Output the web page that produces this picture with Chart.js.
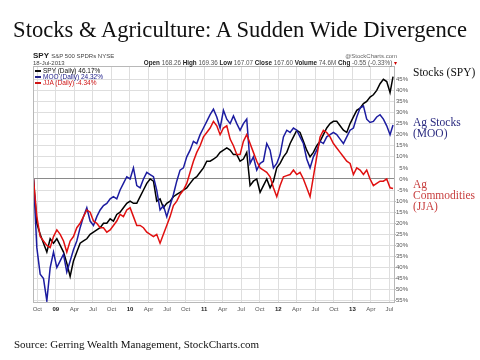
<!DOCTYPE html>
<html><head><meta charset="utf-8">
<script src="https://cdn.jsdelivr.net/npm/chart.js@4/dist/chart.umd.min.js"></script>
<style>
html,body{margin:0;padding:0;background:#fff;}
#wrap{position:relative;width:480px;height:360px;overflow:hidden;background:#fff;}
canvas{position:absolute;left:0;top:0;}
.t{position:absolute;white-space:nowrap;line-height:1;}
.serif{font-family:"Liberation Serif","Times New Roman",serif;}
.sans{font-family:"Liberation Sans",Arial,sans-serif;}
.lg{font-size:6.5px;}
.lg b{display:inline-block;width:6px;height:1.6px;vertical-align:middle;margin-right:2px;}
</style></head><body>
<div id="wrap">
<canvas id="c" width="480" height="360" style="width:480px;height:360px"></canvas>
<div class="t serif" style="left:0;width:480px;text-align:center;top:19px;font-size:22.6px;color:#111;">Stocks &amp; Agriculture: A Sudden Wide Divergence</div>
<div class="t sans" style="left:33px;top:52px;font-size:8px;color:#222;"><span style="font-weight:bold;">SPY</span> <span style="font-size:6px;color:#444;">S&amp;P 500 SPDRs NYSE</span></div>
<div class="t sans" style="left:33px;top:60px;font-size:6px;color:#444;">18-Jul-2013</div>
<div class="t sans" style="right:83px;top:53px;font-size:6px;color:#666;">@StockCharts.com</div>
<div class="t sans" style="right:83px;top:60px;font-size:6.3px;color:#555;"><b style="color:#222">Open</b> 168.26 <b style="color:#222">High</b> 169.36 <b style="color:#222">Low</b> 167.07 <b style="color:#222">Close</b> 167.60 <b style="color:#222">Volume</b> 74.6M <b style="color:#222">Chg</b> -0.55 (-0.33%) <span style="color:#c00">&#9662;</span></div>
<div class="t sans lg" style="left:35px;top:68px;color:#111;"><b style="background:#111"></b>SPY (Daily) 46.17%</div>
<div class="t sans lg" style="left:35px;top:74px;color:#22228c;"><b style="background:#22228c"></b>MOO (Daily) 24.32%</div>
<div class="t sans lg" style="left:35px;top:80px;color:#d01515;"><b style="background:#d01515"></b>JJA (Daily) -4.34%</div>
<div class="t serif" style="left:413px;top:67px;font-size:11.5px;color:#111;">Stocks (SPY)</div>
<div class="t serif" style="left:413px;top:117px;font-size:11.5px;line-height:11px;color:#2b2b80;">Ag Stocks<br>(MOO)</div>
<div class="t serif" style="left:413px;top:179px;font-size:11.5px;line-height:11px;color:#c84040;">Ag<br>Commodities<br>(JJA)</div>
<div class="t serif" style="left:14px;top:339px;font-size:11px;color:#111;">Source: Gerring Wealth Management, StockCharts.com</div>
</div>
<script>
// x positions: months since Jan 2008 (12 = Jan 2009)
const months = [8.38,8.92,9.46,10.00,10.54,11.08,11.62,12.16,12.70,13.24,13.77,14.31,14.85,15.39,15.93,16.47,17.01,17.55,18.09,18.63,19.17,19.71,20.25,20.79,21.32,21.86,22.40,22.94,23.48,24.02,24.56,25.10,25.64,26.18,26.72,27.26,27.80,28.33,28.87,29.41,29.95,30.49,31.03,31.57,32.11,32.65,33.19,33.73,34.27,34.81,35.35,35.89,36.43,
36.97,37.51,38.05,38.59,39.13,39.67,40.21,40.75,41.29,41.82,42.36,42.90,43.44,43.98,44.52,45.06,45.60,46.14,46.68,47.22,47.76,48.30,48.84,49.38,49.92,50.46,51.00,51.53,52.07,52.61,53.15,53.69,54.23,54.77,55.31,55.85,56.39,56.93,57.47,58.01,58.55,59.09,59.63,60.17,60.71,61.25,61.79,62.32,62.86,63.40,63.94,64.48,65.02,65.56,66.10,66.58];

const spy = [0,-20,-25,-29,-33,-27,-29,-27,-30,-33,-38,-44,-37,-33,-29,-28,-27,-25,-24,-23,-22,-20,-20,-18,-19,-16,-15,-13,-11,-10,-11,-11,-8,-5,-2,0,-1,-10,-9,-13,-11,-10,-8,-7,-6,-5,-4,-2,0,1,3,5,8,
8,9,10,12,13,14,13,11,11,8,9,12,-3,-1,0,-6,-3,0,-4,-1,5,7,10,12,16,19,22,21,17,13,10,12,15,17,20,23,25,26,26,24,22,21,25,28,31,32,34,35,37,38,40,43,45,44,39,46.17];

const moo = [0,-31,-43,-45,-55,-40,-33,-40,-37,-34,-42,-37,-32,-28,-22,-17,-13,-19,-21,-17,-14,-12,-11,-9,-8,-9,-5,-2,1,0,5,-3,-4,0,3,2,1,-5,-14,-12,-17,-12,-7,-1,4,5,10,13,17,16,20,23,26,
29,31.5,28,23,31,27,25,28.5,25,22,25,27,7,10,4,7,8,16,13,5,7,11,19,22,21,23,22,19,16,9,5,10,13,17,16,19,20,21,20,18,16,19,22,23,28,32,33,27,25.5,26,28,29,27,24,20,24.32];

const jja = [0,-17,-26,-28,-30,-31,-26,-23,-25,-28,-33,-28,-26,-22,-20,-17,-14,-15,-19,-20,-22,-22,-24,-23,-21,-19,-16,-17,-14,-13,-17,-21,-21,-22,-24,-25,-26,-25,-29,-25,-21,-17,-12,-10,-7,-5,-2,3,8,12,15,19,21,
23,26,24,20,23,24,18,15,11,11,17,20,16,12,8,5,4,3,1,-4,-8,-3,1,1.5,2,4,2,3,0,-4,-8,1,10,19,22,21,19,16,14,12,10,8,7,2,5,4,2,4,0,-3,-2,-1,-1,0,-4,-4.34];

const xTickMonths = [9,12,15,18,21,24,27,30,33,36,39,42,45,48,51,54,57,60,63,66];
const quarterNames = {3:'Apr',6:'Jul',9:'Oct'};
const yTicks = [-55,-50,-45,-40,-35,-30,-25,-20,-15,-10,-5,0,5,10,15,20,25,30,35,40,45];

function pts(vals){ return vals.map((v,i)=>({x:months[i], y:v})); }

const frame = {
  id:'frame',
  afterDraw(chart){
    const a = chart.chartArea, c = chart.ctx;
    c.save(); c.strokeStyle='#b8b8b8'; c.lineWidth=1;
    c.strokeRect(Math.round(a.left)+0.5, Math.round(a.top)+0.5, Math.round(a.right-a.left)-1, Math.round(a.bottom-a.top)-1);
    c.restore();
  }
};

const ds = (label, vals, color) => ({label, data: pts(vals), borderColor: color, backgroundColor: color, borderWidth: 1.5, pointRadius: 0, tension: 0, fill: false});

new Chart(document.getElementById('c'), {
  type: 'line',
  data: { datasets: [ ds('JJA', jja, '#e01010'), ds('MOO', moo, '#1c1ca0'), ds('SPY', spy, '#000000') ] },
  options: {
    responsive: false, animation: false,
    layout: { padding: { left: 33, top: 66, right: 72, bottom: 44 } },
    plugins: { legend: { display: false }, tooltip: { enabled: false } },
    scales: {
      x: {
        type: 'linear', position: 'bottom', min: 8.3, max: 66.9,
        afterBuildTicks: s => { s.ticks = xTickMonths.map(v => ({value: v})); },
        afterFit: s => { s.height = 13; },
        grid: { color: '#dedede', drawTicks: false, lineWidth: 1 },
        border: { display: false },
        ticks: {
          autoSkip: false, maxRotation: 0, padding: 3,
          color: ctx => (ctx.tick && ctx.tick.value % 12 === 0) ? '#222' : '#555',
          font: ctx => ({ family: 'Liberation Sans, Arial, sans-serif', size: 6, weight: (ctx.tick && ctx.tick.value % 12 === 0) ? 'bold' : 'normal' }),
          callback: v => v % 12 === 0 ? String(2008 + v/12 - 2000).padStart(2,'0') : quarterNames[v % 12]
        }
      },
      y: {
        type: 'linear', position: 'right', min: -56, max: 51,
        afterBuildTicks: s => { s.ticks = yTicks.map(v => ({value: v})); },
        afterFit: s => { s.width = 13; },
        grid: { color: ctx => (ctx.tick && ctx.tick.value === 0) ? '#8a8a8a' : '#dedede', drawTicks: false, lineWidth: 1 },
        border: { display: false },
        ticks: {
          padding: 2, crossAlign: 'far', color: '#555',
          font: { family: 'Liberation Sans, Arial, sans-serif', size: 6 },
          callback: v => v + '%'
        }
      }
    }
  },
  plugins: [frame]
});
</script>
</body></html>
